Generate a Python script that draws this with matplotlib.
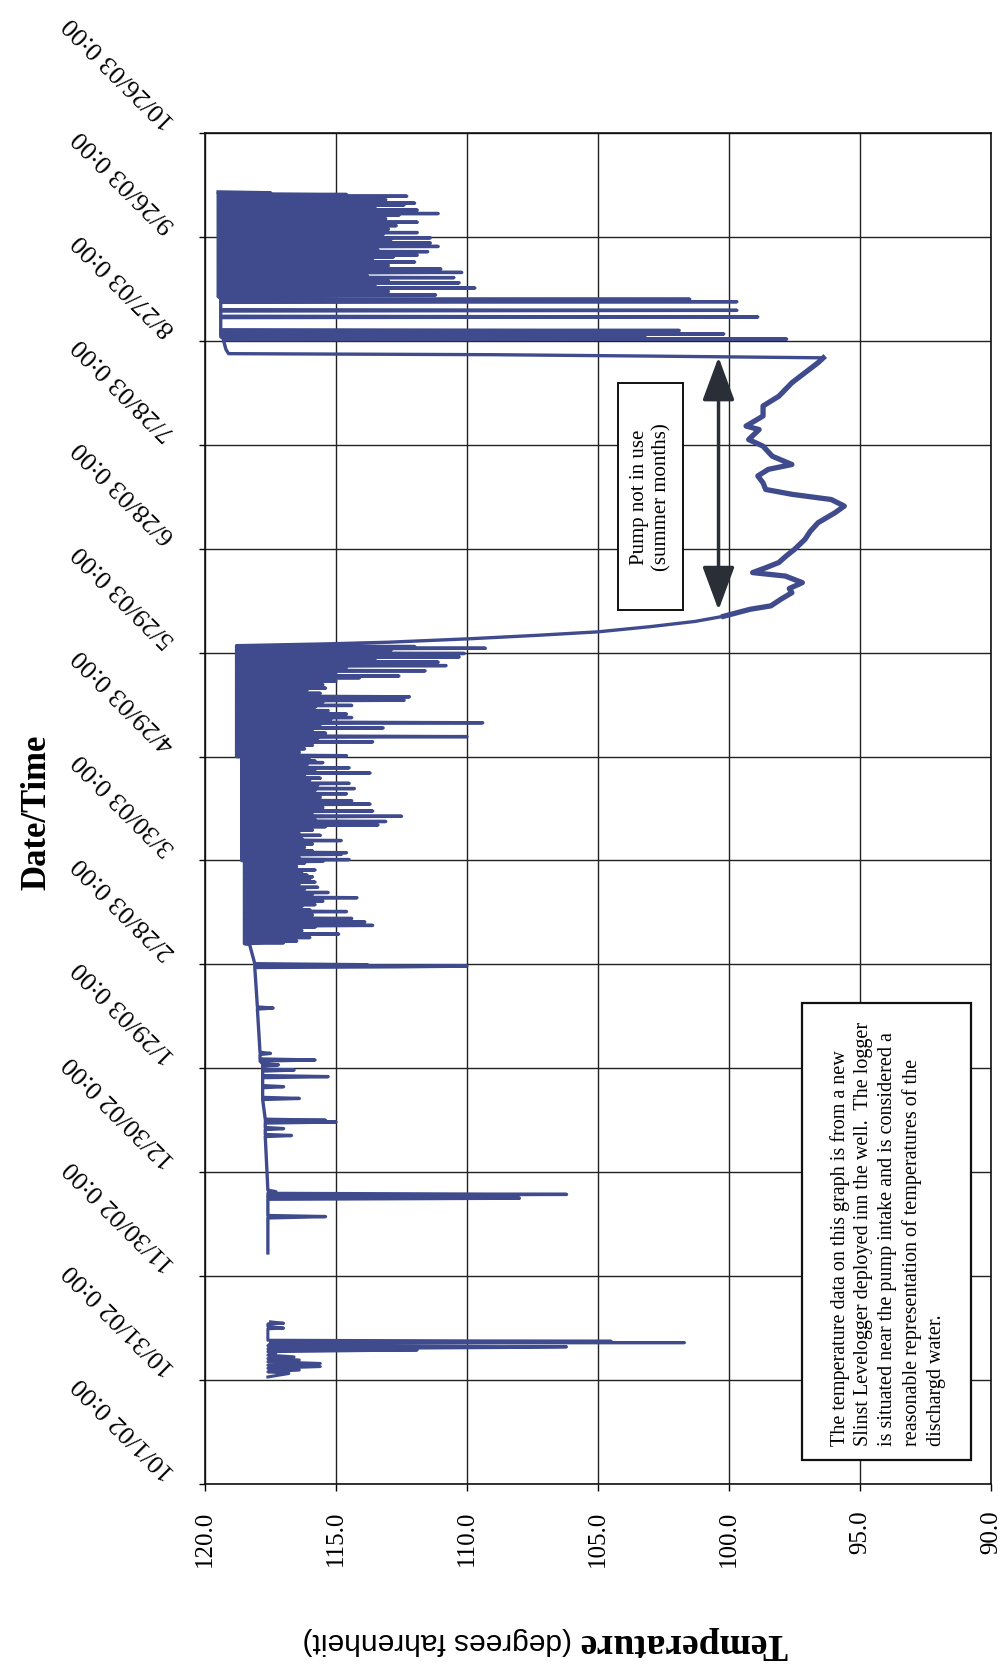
import numpy as np
import matplotlib
matplotlib.use("Agg")
import matplotlib.pyplot as plt
from matplotlib.patches import Rectangle
from matplotlib.transforms import ScaledTranslation

plt.rcParams['font.family'] = ['Liberation Serif', 'DejaVu Serif']

# time axis: days counted from 10/1/02 0:00
date_ticks = [0, 30, 60, 90, 120, 150, 180, 210, 240, 270, 300, 330, 360, 390]
date_labels = ['10/1/02 0:00', '10/31/02 0:00', '11/30/02 0:00', '12/30/02 0:00',
               '1/29/03 0:00', '2/28/03 0:00', '3/30/03 0:00', '4/29/03 0:00',
               '5/29/03 0:00', '6/28/03 0:00', '7/28/03 0:00', '8/27/03 0:00',
               '9/26/03 0:00', '10/26/03 0:00']
temp_ticks = [120, 115, 110, 105, 100, 95, 90]

# first deployment block (late Oct / mid Nov 2002)
oct_days = [30.9, 31.9, 32.4, 32.9, 33.4, 33.9, 34.3, 34.8, 35.3, 35.8, 36.2, 36.7,
            37.2, 37.7, 38.2, 38.7, 39.0, 39.4, 39.6, 39.9, 40.6, 40.8, 41.0, 41.2,
            41.5, 42.5, 44.8, 45.0, 45.5, 46.2, 46.4, 46.8]
oct_temps = [117.6, 116.8, 117.6, 116.4, 117.6, 115.6, 117.6, 115.6, 117.6, 116.4, 117.6, 116.6,
             117.6, 117.3, 117.6, 111.9, 117.6, 108.5, 106.2, 117.6, 117.5, 101.7, 117.5, 104.5,
             117.6, 117.6, 117.6, 117.0, 117.6, 117.6, 117.0, 117.5]

# Dec 2002 - Feb 2003, mostly steady with a few dips
winter_days = [66.7, 76.8, 77.2, 77.5, 82.2, 82.5, 82.8, 83.1, 83.3, 83.6, 83.9, 84.4, 84.8,
               100.3, 100.6, 100.9, 102.3, 102.6, 102.9, 104.2, 104.5, 104.8, 105.0, 105.3,
               111.0, 111.3, 111.6, 114.4, 114.7, 115.0, 117.3, 117.6, 117.9, 119.2, 119.5, 119.8,
               120.7, 121.0, 121.3, 122.1, 122.4, 122.7, 124.0, 124.3, 124.6, 137.1, 137.4, 137.7,
               149.1, 149.3, 149.5, 149.7, 149.9, 150.2, 155.8]
winter_temps = [117.6, 117.6, 115.4, 117.6, 117.6, 108.0, 117.6, 110.5, 117.6, 106.2, 117.6, 117.3, 117.6,
                117.7, 116.7, 117.7, 117.7, 117.0, 117.7, 117.7, 115.0, 117.7, 115.4, 117.7,
                117.8, 116.4, 117.8, 117.8, 117.0, 117.8, 117.8, 115.3, 117.8, 117.8, 116.6, 117.8,
                117.8, 117.2, 117.8, 117.9, 115.8, 117.9, 117.9, 117.5, 117.9, 118.0, 117.4, 118.0,
                118.1, 112.5, 110.0, 118.1, 113.8, 118.1, 118.3]

# pump cycling: low reading every half day, between the steady readings
feb_start, feb_base = 156.0, 118.5
feb_lows = [117.0, 116.5, 117.2, 116.0, 116.8, 114.9, 116.6, 116.3, 117.0, 115.8, 113.6, 116.5,
            113.9, 116.2, 114.4, 116.8, 115.9, 116.6, 114.6, 116.0, 117.0, 116.3, 115.8, 116.9,
            115.5, 116.4, 114.2, 116.7, 115.9, 115.3, 116.8, 116.2, 115.7, 116.9, 116.4, 115.8,
            117.0, 116.0, 115.9, 116.1, 116.8, 116.3, 115.8, 117.1, 116.5, 116.9, 116.2, 115.5]

mar_start, mar_base = 180.0, 118.6
mar_lows = [114.5, 116.4, 116.9, 114.8, 114.6, 115.9, 116.8, 116.2, 117.0, 115.9, 116.6, 114.8,
            116.3, 116.9, 115.6, 116.4, 116.8, 115.9, 116.5, 115.4, 113.4, 116.2, 113.1, 115.8,
            116.6, 112.5, 115.9, 116.7, 113.6, 116.3, 115.5, 116.8, 113.7, 115.9, 114.4, 116.5,
            115.6, 116.9, 114.6, 116.2, 115.8, 114.3, 116.6, 115.7, 114.5, 116.8, 116.0, 115.6,
            116.9, 116.2, 113.7, 116.4, 115.8, 114.5, 116.7, 116.1, 115.5, 115.8, 116.6, 116.0]

may_start, may_base = 210.0, 118.8
may_lows = [114.6, 116.5, 116.4, 117.0, 116.2, 116.8, 115.9, 116.5, 113.6, 116.1, 115.7, 110.0,
            116.4, 115.4, 116.7, 115.9, 113.2, 116.3, 115.6, 109.4, 116.0, 115.2, 114.4, 116.5,
            114.6, 116.1, 115.3, 116.7, 115.8, 114.4, 116.3, 115.5, 112.4, 115.9, 112.2, 116.4,
            115.6, 116.8, 116.1, 115.4, 116.6, 115.5, 116.2, 115.0, 116.5, 114.1, 112.6, 115.8,
            115.0, 111.6, 115.5, 114.6, 110.8, 114.9, 111.1, 115.3, 113.5, 110.3, 114.8, 110.1,
            113.9, 112.9, 109.3, 112.0]

# pump shut off: well cools down
cool_days = [242.0, 242.5, 243.0, 244.0, 245.0, 246.0, 247.5, 249.0, 250.5]
cool_temps = [118.8, 115.5, 113.0, 109.9, 107.3, 105.0, 103.0, 101.3, 100.2]

summer_days = [250.5, 252.5, 253.5, 255.5, 257.3, 258.5, 260.2, 262.1, 263.1, 264.5, 266.0, 268.0,
               269.8, 272.7, 275.0, 277.5, 280.4, 282.3, 284.2, 285.7, 287.1, 289.0, 291.0, 292.9,
               294.3, 296.7, 299.6, 301.5, 304.4, 305.4, 308.3, 311.2, 314.0, 317.9, 320.8, 323.7,
               325.1]
summer_temps = [100.2, 99.2, 98.4, 98.0, 97.6, 97.7, 97.2, 97.85, 99.1, 98.6, 98.1, 97.8,
                97.5, 97.1, 96.9, 96.6, 95.95, 95.6, 96.1, 97.6, 98.6, 98.7, 98.9, 98.5,
                97.6, 98.35, 98.7, 99.25, 98.85, 99.35, 98.7, 98.7, 98.1, 97.6, 97.1, 96.6,
                96.4]

# pump back on at end of August
restart_days = [325.6, 326.0, 326.3, 327.5, 330.3, 330.5, 330.7, 331.2, 331.5, 331.8, 332.0, 332.2,
                332.8, 333.0, 333.2, 336.7, 336.9, 337.1, 338.6, 338.8, 339.0, 341.1, 341.3, 341.5,
                341.8, 342.0, 342.2, 342.8]
restart_temps = [103.0, 109.0, 119.1, 119.2, 119.3, 97.8, 119.3, 119.4, 103.2, 119.4, 100.2, 119.4,
                 119.4, 101.9, 119.4, 119.4, 98.9, 119.4, 119.4, 99.7, 119.4, 119.4, 99.7, 119.4,
                 119.4, 101.5, 119.4, 119.5]

sep_start, sep_base = 343.0, 119.5
sep_lows = [111.2, 114.0, 113.0, 115.5, 109.7, 113.5, 114.6, 110.3, 113.0, 115.0, 110.5, 113.8,
            114.8, 110.2, 113.2, 111.0, 114.5, 113.0, 115.2, 112.0, 113.6, 114.4, 112.8, 111.9,
            114.2, 111.5, 113.4, 114.9, 111.1, 113.7, 111.4, 114.1, 112.9, 111.4, 114.6, 113.2,
            111.9, 114.3, 113.0, 115.1, 112.7, 113.9, 111.9, 114.5, 113.1, 114.8, 112.6, 111.1,
            114.0, 111.9, 113.5, 114.7, 112.4, 112.0, 114.3, 113.1, 115.0, 112.3, 114.6, 117.5]


def zigzag(start, base, lows):
    days, temps = [], []
    for i, low in enumerate(lows):
        d = start + 0.5 * i
        days += [d, d + 0.25]
        temps += [base, low]
    return days, temps


parts = [(winter_days, winter_temps),
         zigzag(feb_start, feb_base, feb_lows),
         zigzag(mar_start, mar_base, mar_lows),
         zigzag(may_start, may_base, may_lows),
         (cool_days, cool_temps),
         (summer_days, summer_temps),
         (restart_days, restart_temps),
         zigzag(sep_start, sep_base, sep_lows)]
main_days = np.concatenate([p[0] for p in parts] + [[373.0]])
main_temps = np.concatenate([p[1] for p in parts] + [[sep_base]])

W, H = 1004, 1667
fig = plt.figure(figsize=(W / 100, H / 100), dpi=100)
ax = fig.add_axes([205 / W, 1 - 1484 / H, (991 - 205) / W, (1484 - 133) / H])

line_col = '#3f4b8c'
ax.plot(oct_temps, oct_days, color=line_col, lw=2.2)
ax.plot(main_temps, main_days, color=line_col, lw=2.4)
ax.plot(summer_temps, summer_days, color=line_col, lw=3.8, solid_joinstyle='round')

ax.set_xlim(120, 90)
ax.set_ylim(0, 390)
ax.set_xticks(temp_ticks)
ax.set_xticklabels([f'{t:.1f}' for t in temp_ticks])
ax.set_yticks(date_ticks)
ax.tick_params(axis='x', labelrotation=90, labelsize=18, pad=14, length=5, width=1)
ax.tick_params(axis='y', labelleft=False, length=4, width=1)
ax.grid(True, color='#222222', lw=1.0)
ax.set_axisbelow(True)
for s in ax.spines.values():
    s.set_linewidth(1.2)
    s.set_color('#111111')

# slanted date labels left of the axis
shift = ScaledTranslation(-0.33, 0.09, fig.dpi_scale_trans)
for d, lab in zip(date_ticks, date_labels):
    ax.text(0, d, lab, transform=ax.get_yaxis_transform() + shift,
            rotation=135, rotation_mode='anchor', ha='left', va='center', fontsize=19)


def fx(x):
    return x / W


def fy(y):
    return 1 - y / H


fig.text(fx(37), fy(812), 'Date/Time', rotation=90, ha='center', va='center',
         fontsize=25, fontweight='bold')

t1 = fig.text(fx(787), fy(1643), 'Temperature', rotation=180, rotation_mode='anchor',
              ha='left', va='center', fontsize=27, fontweight='bold')
fig.canvas.draw()
bb = t1.get_window_extent()
fig.text((bb.x0 - 7) / W, fy(1641), '(degrees fahrenheit)', rotation=180, rotation_mode='anchor',
         ha='left', va='center', fontsize=21.5, family=['Liberation Sans', 'DejaVu Sans'])

# double arrow spanning the summer shutdown
ax.annotate('', xy=(100.4, 325.3), xytext=(100.4, 252.3),
            arrowprops=dict(arrowstyle='<|-|>,head_length=1.35,head_width=0.5',
                            color='#2a2e36', lw=2.5, mutation_scale=20, shrinkA=0, shrinkB=0))

fig.add_artist(Rectangle((fx(618), fy(610)), fx(683) - fx(618), fy(383) - fy(610),
                         transform=fig.transFigure, fill=True, facecolor='white',
                         edgecolor='#111111', lw=1.4))
fig.text(fx(651), fy(497), 'Pump not in use\n(summer months)', rotation=90,
         ha='center', va='center', multialignment='center', fontsize=15, linespacing=1.2)

fig.add_artist(Rectangle((fx(802), fy(1460)), fx(971) - fx(802), fy(1003) - fy(1460),
                         transform=fig.transFigure, fill=True, facecolor='white',
                         edgecolor='#111111', lw=1.6))
note = ('The temperature data on this graph is from a new\n'
        'Slinst Levelogger deployed inn the well.  The logger\n'
        'is situated near the pump intake and is considered a\n'
        'reasonable representation of temperatures of the\n'
        'dischargd water.')
fig.text(fx(888), fy(1234), note, rotation=90, ha='center', va='center',
         multialignment='left', fontsize=14.5, linespacing=1.35)

fig.savefig('out.png', dpi=100)
